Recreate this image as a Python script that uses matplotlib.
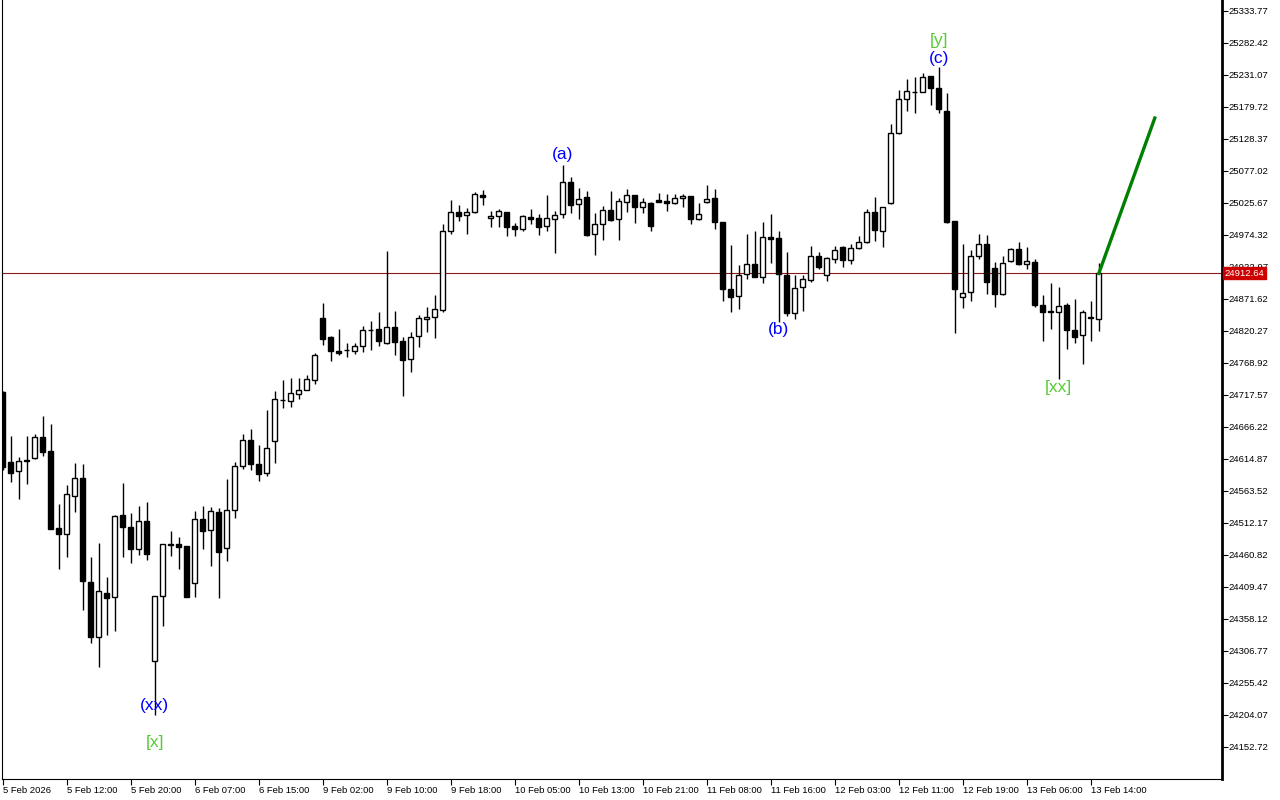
import numpy as np
import matplotlib
matplotlib.use("Agg")
import matplotlib.pyplot as plt
import matplotlib.transforms as mtransforms

# --- hourly OHLC (bar 0 = 5 Feb 04:00) ---
opens = [24722.4, 24610.0, 24595.6, 24613.2, 24616.9, 24649.7, 24627.7, 24504.1, 24495.0, 24555.9,
         24583.9, 24417.5, 24329.7, 24399.3, 24392.9, 24524.5, 24505.7, 24470.0, 24515.3, 24289.9,
         24394.5, 24478.0, 24479.0, 24475.3, 24416.3, 24518.6, 24500.4, 24529.3, 24471.7, 24532.5,
         24603.1, 24644.9, 24606.3, 24591.9, 24643.2, 24709.0, 24707.4, 24718.6, 24725.1, 24741.1,
         24840.6, 24810.1, 24787.7, 24789.3, 24787.7, 24795.7, 24821.8, 24822.9, 24801.4, 24826.1,
         24804.2, 24774.8, 24811.7, 24839.0, 24842.2, 24853.5, 24980.2, 25010.7, 25005.9, 25010.7,
         25038.5, 25001.1, 25004.3, 25010.7, 24988.3, 24984.4, 25002.7, 25001.1, 24989.2, 24999.5,
         25007.5, 25058.9, 25023.6, 25034.8, 24975.5, 24991.5, 25014.0, 24999.5, 25026.8, 25038.5,
         25018.8, 25025.6, 25030.0, 25028.4, 25025.2, 25033.2, 25036.4, 24999.5, 25026.8, 25033.2,
         24994.7, 24887.6, 24875.9, 24911.2, 24927.3, 24906.4, 24970.6, 24969.0, 24909.6, 24849.6,
         24890.4, 24901.6, 24940.1, 24909.6, 24935.3, 24954.6, 24933.7, 24953.9, 24962.6, 25010.7,
         24980.2, 25025.2, 25137.5, 25192.1, 25203.8, 25203.3, 25229.0, 25209.7, 25173.3, 24996.8,
         24874.3, 24882.3, 24940.1, 24959.4, 24920.9, 24879.1, 24932.1, 24951.4, 24927.3, 24930.5,
         24861.5, 24851.2, 24850.3, 24861.5, 24821.4, 24813.4, 24841.1, 24839.0]

highs = [24724.0, 24651.8, 24618.1, 24651.8, 24655.0, 24683.8, 24671.0, 24542.6, 24573.1, 24608.4,
         24606.8, 24457.6, 24480.1, 24425.5, 24524.5, 24576.3, 24528.2, 24539.4, 24545.8, 24394.5,
         24478.5, 24499.3, 24489.7, 24476.0, 24531.4, 24539.4, 24537.8, 24536.7, 24582.7, 24610.0,
         24655.0, 24662.5, 24637.3, 24693.5, 24723.9, 24741.6, 24744.8, 24744.3, 24750.1, 24785.0,
         24865.7, 24811.7, 24823.4, 24801.0, 24801.0, 24828.3, 24836.3, 24850.7, 24948.6, 24852.3,
         24810.6, 24818.6, 24845.9, 24858.8, 24878.0, 24991.9, 25030.5, 25022.0, 25017.1, 25042.8,
         25046.5, 25012.8, 25015.5, 25011.2, 24993.1, 25006.4, 25015.5, 25007.5, 25038.5, 25012.3,
         25086.6, 25066.9, 25049.3, 25044.4, 25009.6, 25020.4, 25044.4, 25033.2, 25047.6, 25039.0,
         25033.2, 25026.8, 25041.2, 25039.6, 25039.6, 25039.6, 25036.9, 25025.2, 25054.5, 25047.6,
         24995.2, 24957.8, 24925.7, 24975.5, 24980.2, 24995.2, 25007.5, 24980.2, 24946.5, 24909.6,
         24909.6, 24956.2, 24947.5, 24938.5, 24956.2, 24956.6, 24959.4, 24972.2, 25016.0, 25035.3,
         25019.3, 25152.0, 25206.9, 25224.6, 25227.8, 25234.7, 25229.5, 25243.9, 25201.7, 24997.3,
         24959.4, 24949.7, 24975.5, 24974.3, 24931.0, 24940.6, 24953.0, 24962.6, 24954.6, 24935.3,
         24877.5, 24897.8, 24890.4, 24864.7, 24871.1, 24853.5, 24868.4, 24928.9]

lows = [24597.2, 24577.9, 24550.7, 24574.7, 24614.8, 24619.2, 24502.5, 24438.8, 24458.1, 24530.3,
        24373.0, 24320.1, 24280.3, 24332.4, 24339.3, 24458.1, 24448.3, 24461.3, 24453.3, 24204.5,
        24347.3, 24459.7, 24438.8, 24393.0, 24393.9, 24470.5, 24443.6, 24392.3, 24451.5, 24520.6,
        24599.3, 24597.7, 24580.0, 24587.1, 24608.9, 24697.2, 24698.8, 24710.6, 24725.1, 24735.7,
        24797.3, 24772.6, 24781.3, 24779.0, 24783.8, 24787.0, 24790.2, 24796.6, 24799.8, 24782.2,
        24716.4, 24755.1, 24795.0, 24818.9, 24809.5, 24850.3, 24976.4, 24997.3, 24976.4, 25009.1,
        25022.9, 24987.1, 24987.1, 24973.2, 24973.2, 24981.2, 24991.9, 24974.8, 24981.2, 24945.9,
        25002.1, 25009.1, 24999.5, 24973.2, 24941.8, 24965.8, 24996.8, 24965.8, 25010.7, 24993.1,
        25009.1, 24980.2, 25027.2, 25013.5, 25023.6, 25019.7, 24992.4, 24998.4, 25026.3, 24983.4,
        24868.4, 24851.2, 24856.0, 24904.2, 24907.0, 24896.8, 24929.9, 24835.2, 24844.8, 24840.0,
        24852.8, 24898.4, 24919.3, 24900.0, 24928.9, 24923.4, 24927.3, 24951.4, 24962.1, 24965.2,
        24955.5, 25024.7, 25137.0, 25173.8, 25170.5, 25203.3, 25182.4, 25169.6, 24994.0, 24816.6,
        24856.7, 24867.9, 24935.3, 24879.1, 24859.2, 24878.6, 24931.6, 24925.7, 24919.3, 24858.3,
        24804.7, 24823.0, 24742.7, 24791.8, 24801.4, 24767.8, 24804.7, 24820.7]

closes = [24602.0, 24592.4, 24611.6, 24612.4, 24649.7, 24625.6, 24503.0, 24494.0, 24558.2, 24583.9,
          24419.6, 24329.7, 24402.5, 24392.3, 24523.4, 24505.2, 24470.9, 24514.9, 24461.8, 24394.5,
          24478.0, 24477.4, 24474.2, 24393.9, 24518.6, 24499.8, 24530.9, 24466.2, 24532.5, 24603.1,
          24644.9, 24607.3, 24591.2, 24632.0, 24710.6, 24709.5, 24720.2, 24725.1, 24742.8, 24781.3,
          24807.9, 24788.6, 24785.4, 24789.8, 24795.7, 24821.8, 24822.3, 24804.7, 24826.1, 24803.1,
          24774.2, 24810.1, 24840.6, 24842.2, 24855.1, 24980.2, 25010.7, 25005.3, 25010.7, 25040.1,
          25035.8, 25004.3, 25012.3, 24987.6, 24984.4, 25004.3, 25000.5, 24987.6, 25001.1, 25005.9,
          25058.9, 25022.9, 25031.6, 24974.3, 24991.5, 25014.0, 24998.4, 25028.4, 25038.5, 25018.8,
          25026.8, 24988.3, 25027.7, 25026.2, 25033.2, 25036.4, 25000.5, 25007.5, 25031.6, 24994.7,
          24887.2, 24875.3, 24909.6, 24927.3, 24907.4, 24970.6, 24967.4, 24911.2, 24849.6, 24889.7,
          24903.2, 24940.1, 24923.4, 24936.9, 24950.7, 24933.7, 24953.9, 24962.6, 25010.7, 24982.8,
          25018.8, 25137.5, 25192.1, 25204.9, 25203.3, 25227.4, 25209.7, 25176.0, 24995.6, 24887.2,
          24880.7, 24940.1, 24959.4, 24898.4, 24879.1, 24928.9, 24951.4, 24927.3, 24932.1, 24861.5,
          24850.3, 24851.9, 24859.9, 24821.4, 24811.1, 24850.3, 24841.6, 24912.64]

time_labels = ["5 Feb 2026", "5 Feb 12:00", "5 Feb 20:00", "6 Feb 07:00", "6 Feb 15:00",
               "9 Feb 02:00", "9 Feb 10:00", "9 Feb 18:00", "10 Feb 05:00", "10 Feb 13:00",
               "10 Feb 21:00", "11 Feb 08:00", "11 Feb 16:00", "12 Feb 03:00", "12 Feb 11:00",
               "12 Feb 19:00", "13 Feb 06:00", "13 Feb 14:00"]
label_every = 8

price_ticks = [24152.72, 24204.07, 24255.42, 24306.77, 24358.12, 24409.47, 24460.82, 24512.17,
               24563.52, 24614.87, 24666.22, 24717.57, 24768.92, 24820.27, 24871.62, 24922.97,
               24974.32, 25025.67, 25077.02, 25128.37, 25179.72, 25231.07, 25282.42, 25333.77]
last_price = 24912.64

# wave labels: (text, bar, price, colour)
wave_labels = [("(xx)", 19, 24220.0, "blue"),
               ("[x]", 19, 24160.0, "#55cc33"),
               ("(a)", 70, 25104.0, "blue"),
               ("(b)", 97, 24822.0, "blue"),
               ("[y]", 117, 25287.0, "#55cc33"),
               ("(c)", 117, 25258.0, "blue"),
               ("[xx]", 132, 24729.0, "#55cc33")]

# projected move
proj_bars = [137, 144]
proj_prices = [24912.64, 25162.0]

plt.rcParams["font.family"] = ["Liberation Sans", "DejaVu Sans"]

fig = plt.figure(figsize=(12.8, 8.0), dpi=100)
ax = fig.add_axes([2 / 1280, 21 / 800, 1220 / 1280, 779 / 800])

o = np.array(opens)
h = np.array(highs)
l = np.array(lows)
c = np.array(closes)
x = np.arange(len(o))
bull = c >= o

ax.vlines(x, l, h, color="black", linewidth=1.0, zorder=2)
bottoms = np.minimum(o, c)
heights = np.maximum(np.abs(c - o), 0.8)
ax.bar(x[bull], heights[bull], bottom=bottoms[bull], width=0.62,
       facecolor="white", edgecolor="black", linewidth=1.0, zorder=3)
ax.bar(x[~bull], heights[~bull], bottom=bottoms[~bull], width=0.62,
       facecolor="black", edgecolor="black", linewidth=1.0, zorder=3)

# current price line
ax.axhline(last_price, color="#8b1a1a", linewidth=0.8, zorder=1)

ax.plot(proj_bars, proj_prices, color="#008000", linewidth=2.4, zorder=4)

for txt, bar, price, col in wave_labels:
    ax.text(bar, price, txt, color=col, fontsize=12.5, ha="center", va="center", zorder=5)

ax.set_xlim(-0.1, 152.4)
ax.set_ylim(24101.3, 25351.4)

ax.yaxis.tick_right()
ax.set_yticks(price_ticks)
ax.set_yticklabels([f"{v:.2f}" for v in price_ticks])
ax.tick_params(axis="y", direction="out", length=4, width=0.8, labelsize=6.8, pad=1)

ax.set_xticks(np.arange(len(time_labels)) * label_every)
ax.set_xticklabels(time_labels, ha="left")
ax.tick_params(axis="x", direction="out", length=4, width=0.8, labelsize=6.8, pad=1)

trans = mtransforms.blended_transform_factory(ax.transAxes, ax.transData)
ax.text(1.002, last_price, f"{last_price:.2f}", transform=trans, fontsize=6.8,
        color="white", ha="left", va="center", zorder=6, clip_on=False,
        bbox=dict(boxstyle="square,pad=0.15", facecolor="#cc0000", edgecolor="#cc0000"))

ax.spines["top"].set_visible(False)
ax.spines["right"].set_linewidth(2.0)
ax.spines["bottom"].set_linewidth(0.8)
ax.spines["left"].set_linewidth(0.8)

fig.savefig("out.png", dpi=100, facecolor="white")
